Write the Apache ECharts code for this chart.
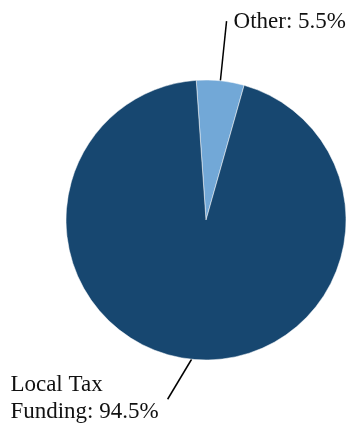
<!DOCTYPE html>
<html>
<head>
<meta charset="utf-8">
<script src="https://cdn.jsdelivr.net/npm/echarts@6/dist/echarts.min.js"></script>
<style>
  html, body { margin: 0; padding: 0; background: #fff; }
  #chart { width: 351px; height: 426px; }
</style>
</head>
<body>
<div id="chart"></div>
<script>
  // slices, clockwise from just left of 12 o'clock
  const categories = ['Other', 'Local Tax Funding']
  const shares = [5.5, 94.5]
  const labelTexts = ['Other: 5.5%', 'Local Tax\nFunding: 94.5%']
  const colors = ['#72a8d7', '#174770']

  const serif = "'Liberation Serif', 'DejaVu Serif', serif"

  const chart = echarts.init(document.getElementById('chart'))

  const pieData = categories.map((name, i) => ({
    name: name,
    value: shares[i],
    itemStyle: { color: colors[i] },
  }))

  chart.setOption({
    animation: false,
    textStyle: { fontFamily: serif },
    series: [
      {
        type: 'pie',
        center: [206, 220],
        radius: 140,
        startAngle: 94,
        clockwise: true,
        avoidLabelOverlap: false,
        data: pieData,
        itemStyle: { borderColor: '#ffffff', borderWidth: 0.5 },
        label: {
          show: true,
          position: 'outside',
          distanceToLabelLine: 7,
          fontFamily: serif,
          fontSize: 23,
          color: '#111111',
          formatter: (p) => {
            // keep lines left aligned inside the block
            return labelTexts[p.dataIndex].split('\n').map(s => '{a|' + s + '}').join('\n')
          },
          rich: {
            a: {
              align: 'left',
              fontFamily: serif,
              fontSize: 23,
              lineHeight: 27,
              color: '#111111',
            },
          },
        },
        labelLine: {
          show: true,
          length: 60,
          length2: 0,
          smooth: false,
          lineStyle: { color: '#000000', width: 1.5 },
        },
        labelLayout: function (params) {
          if (params.dataIndex === 0) {
            return { dy: 1 }
          }
          // bottom label: slanted leader going down-left
          const s = params.labelLinePoints[0]
          const e = [s[0] - 24, s[1] + 40]
          return {
            x: e[0] - 9,
            y: e[1] - 1,
            align: 'right',
            verticalAlign: 'middle',
            labelLinePoints: [s, e, e],
          }
        },
      },
    ],
  })
</script>
</body>
</html>
